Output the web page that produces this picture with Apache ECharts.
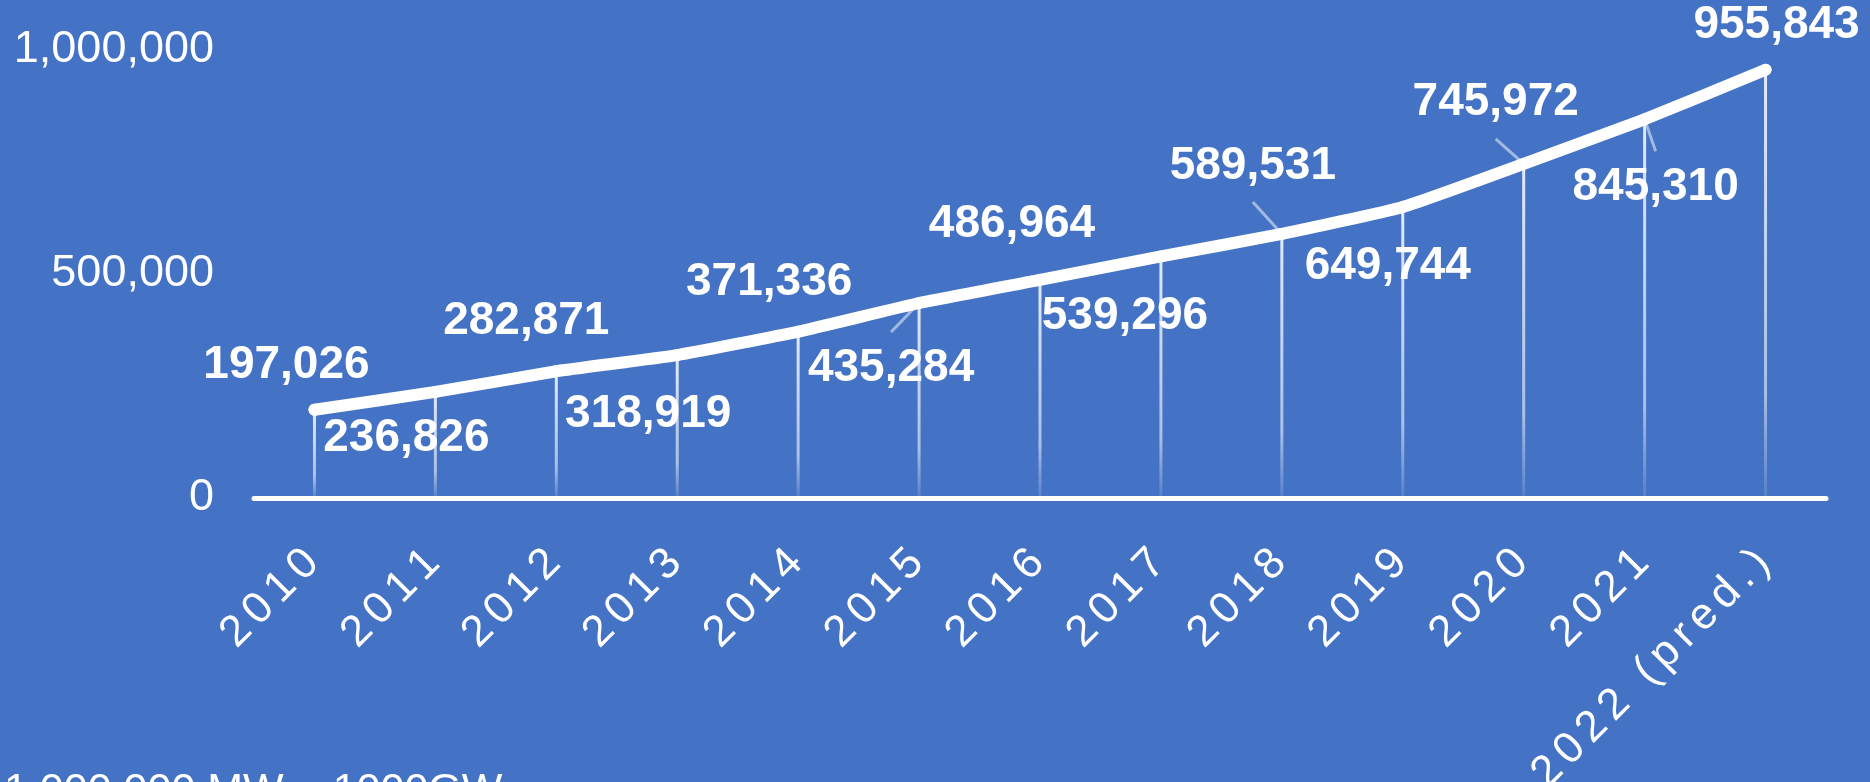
<!DOCTYPE html>
<html>
<head>
<meta charset="utf-8">
<title>Installed capacity 2010–2022</title>
<script src="https://cdn.jsdelivr.net/npm/echarts@6/dist/echarts.min.js"></script>
<style>
  html, body { margin: 0; padding: 0; background: #4472C4; }
  #chart { width: 1870px; height: 782px; }
</style>
</head>
<body>
<div id="chart"></div>
<script>
// Categories and values (MW)
const years = ['2010', '2011', '2012', '2013', '2014', '2015', '2016',
               '2017', '2018', '2019', '2020', '2021', '2022 (pred.)'];
const capacityMW = [197026, 236826, 282871, 318919, 371336, 435284, 486964,
                    539296, 589531, 649744, 745972, 845310, 955843];
const yAxisMin = 0;
const yAxisMax = 1000000;
const yAxisStep = 500000;
const footnote = '1,000,000 MW = 1000GW';

// Label placement: [dx, dy] from each point, alternating above / below the line
const labelOffsets = [
  [-28, -44], [-29, 46], [-30, -50], [-29, 59], [-29, -49], [-28, 65], [-28, -56],
  [-36, 60], [-29, -68], [-15, 59], [-28, -61], [11, 68], [11, -44]
];
// Labels that get a short guide line back to their point
const guidedLabels = [5, 8, 10, 11];
const guideGap = 36;

const FONT = '"Liberation Sans", Arial, Helvetica, sans-serif';
const fmt = v => Number(v).toLocaleString('en-US');
// category labels are drawn with loose tracking: one rich token per character
const spaced = s => String(s).split('').map(ch => '{c|' + ch + '}').join('');

const chart = echarts.init(document.getElementById('chart'), null, { renderer: 'canvas' });

const lineData = capacityMW.map((v, i) => ({
  value: v,
  label: { offset: labelOffsets[i] }
}));

chart.setOption({
  backgroundColor: '#4472C4',
  animation: false,
  grid: {
    left: 254, right: 44, top: 50, bottom: 284,
    containLabel: false,
    outerBoundsMode: 'none'
  },
  xAxis: {
    type: 'category',
    data: years,
    boundaryGap: true,
    axisLine: { show: true, lineStyle: { color: '#ffffff', width: 5 } },
    axisTick: { show: false },
    axisLabel: {
      rotate: 45,
      margin: 56,
      interval: 0,
      color: '#ffffff',
      formatter: v => spaced(v),
      rich: {
        c: {
          color: '#ffffff',
          fontFamily: FONT,
          fontSize: 44,
          padding: [0, 3.5, 0, 3.5]
        }
      }
    },
    splitLine: { show: false }
  },
  yAxis: {
    type: 'value',
    min: yAxisMin,
    max: yAxisMax,
    interval: yAxisStep,
    axisLine: { show: false },
    axisTick: { show: false },
    splitLine: { show: false },
    axisLabel: {
      margin: 40,
      color: '#ffffff',
      fontFamily: FONT,
      fontSize: 45,
      formatter: v => fmt(v)
    }
  },
  series: [
    {
      // thin drop lines from each point to the axis
      type: 'bar',
      data: capacityMW,
      barWidth: 3,
      silent: true,
      z: 1,
      itemStyle: {
        color: new echarts.graphic.LinearGradient(0, 0, 0, 1, [
          { offset: 0, color: 'rgba(255,255,255,0.85)' },
          { offset: 0.75, color: 'rgba(255,255,255,0.55)' },
          { offset: 1, color: 'rgba(255,255,255,0.1)' }
        ])
      }
    },
    {
      // guide lines from a point to its moved label
      type: 'custom',
      data: capacityMW.map((v, i) => [i, v]),
      silent: true,
      z: 2,
      renderItem: (params, api) => {
        const i = api.value(0);
        if (guidedLabels.indexOf(i) < 0) {
          return { type: 'group', children: [] };
        }
        const p = api.coord([i, api.value(1)]);
        const off = labelOffsets[i];
        const gap = off[1] > 0 ? -guideGap : guideGap;
        return {
          type: 'line',
          shape: { x1: p[0], y1: p[1], x2: p[0] + off[0], y2: p[1] + off[1] + gap },
          style: { stroke: 'rgba(255,255,255,0.5)', lineWidth: 3 }
        };
      }
    },
    {
      type: 'line',
      data: lineData,
      z: 3,
      smooth: 0.15,
      symbol: 'circle',
      symbolSize: 12,
      showSymbol: true,
      itemStyle: { color: '#ffffff' },
      lineStyle: { color: '#ffffff', width: 12, cap: 'round', join: 'round' },
      label: {
        show: true,
        position: 'inside',
        color: '#ffffff',
        fontFamily: FONT,
        fontSize: 46,
        fontWeight: 'bold',
        textBorderWidth: 0,
        formatter: p => fmt(p.value)
      }
    }
  ],
  graphic: [
    {
      type: 'text',
      left: 4,
      top: 770,
      silent: true,
      style: {
        text: footnote,
        fill: '#ffffff',
        font: '43px ' + FONT
      }
    }
  ]
});
</script>
</body>
</html>
